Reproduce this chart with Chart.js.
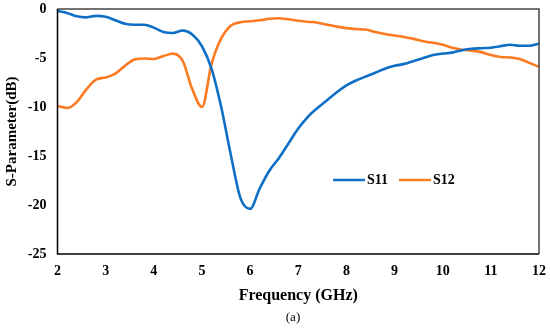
<!DOCTYPE html>
<html>
<head>
<meta charset="utf-8">
<script src="https://cdn.jsdelivr.net/npm/chart.js@4"></script>
<style>
  html, body { margin: 0; padding: 0; background: #fff; }
  #wrap { width: 550px; height: 329px; }
</style>
</head>
<body>
<div id="wrap"><canvas id="chart" width="550" height="329"></canvas></div>
<script>
// frequency points (GHz)
const freq = [2.0, 2.2, 2.4, 2.6, 2.8, 3.0, 3.2, 3.4, 3.6, 3.8,
    4.0, 4.2, 4.4, 4.6, 4.8, 5.0, 5.2, 5.4, 5.6, 5.8,
    6.0, 6.2, 6.4, 6.6, 6.8, 7.0, 7.2, 7.4, 7.6, 7.8,
    8.0, 8.2, 8.4, 8.6, 8.8, 9.0, 9.2, 9.4, 9.6, 9.8,
    10.0, 10.2, 10.4, 10.6, 10.8, 11.0, 11.2, 11.4, 11.6, 11.8, 12.0];

const s11 = [-0.2, -0.4, -0.75, -0.85, -0.7, -0.8, -1.15, -1.5, -1.6, -1.6,
    -1.9, -2.35, -2.45, -2.2, -2.6, -3.8, -6.1, -10.0, -14.9, -19.3,
    -20.4, -18.3, -16.5, -15.2, -13.7, -12.2, -11.0, -10.1, -9.3, -8.5,
    -7.8, -7.3, -6.9, -6.5, -6.1, -5.8, -5.6, -5.3, -5.0, -4.7,
    -4.55, -4.45, -4.2, -4.05, -4.0, -3.95, -3.8, -3.65, -3.75, -3.75, -3.55];

const s12 = [-9.9, -10.1, -9.5, -8.2, -7.2, -7.0, -6.6, -5.8, -5.15, -5.05,
    -5.1, -4.8, -4.55, -5.3, -8.2, -10.0, -5.6, -3.0, -1.7, -1.35,
    -1.25, -1.15, -1.0, -0.95, -1.05, -1.2, -1.3, -1.4, -1.6, -1.8,
    -1.95, -2.05, -2.1, -2.35, -2.55, -2.7, -2.85, -3.05, -3.3, -3.45,
    -3.65, -3.95, -4.15, -4.25, -4.4, -4.7, -4.9, -4.95, -5.1, -5.5, -5.9];

const seriesNames = ['S11', 'S12'];
const seriesColors = ['#0f6fc6', '#fb7b23'];

const serif = "'Liberation Serif', 'DejaVu Serif', serif";

function toPoints(ys) {
    return freq.map((f, i) => ({ x: f, y: ys[i] }));
}

// frame, legend and caption
const extras = {
    id: 'extras',
    afterDraw(chart) {
        const ctx = chart.ctx;
        const a = chart.chartArea;
        ctx.save();
        ctx.lineWidth = 1.5;
        ctx.strokeStyle = '#444';
        ctx.beginPath();
        ctx.moveTo(a.left, a.top);
        ctx.lineTo(a.right, a.top);
        ctx.lineTo(a.right, a.bottom);
        ctx.stroke();
        ctx.strokeStyle = '#000';
        ctx.beginPath();
        ctx.moveTo(a.left, a.top);
        ctx.lineTo(a.left, a.bottom);
        ctx.lineTo(a.right, a.bottom);
        ctx.stroke();

        // legend
        ctx.font = 'bold 14px ' + serif;
        ctx.textBaseline = 'middle';
        ctx.textAlign = 'left';
        let x = 333;
        const y = 180;
        chart.data.datasets.forEach(ds => {
            ctx.strokeStyle = ds.borderColor;
            ctx.lineWidth = 2.5;
            ctx.beginPath();
            ctx.moveTo(x, y);
            ctx.lineTo(x + 32, y);
            ctx.stroke();
            ctx.fillStyle = '#000';
            ctx.fillText(ds.label, x + 34, y);
            x += 34 + ctx.measureText(ds.label).width + 11;
        });

        ctx.font = '13px ' + serif;
        ctx.textAlign = 'center';
        ctx.fillText('(a)', 293, 318);
        ctx.restore();
    }
};

new Chart(document.getElementById('chart'), {
    type: 'line',
    data: {
        datasets: [
            { label: seriesNames[0], data: toPoints(s11), borderColor: seriesColors[0] },
            { label: seriesNames[1], data: toPoints(s12), borderColor: seriesColors[1] }
        ]
    },
    options: {
        responsive: false,
        animation: false,
        layout: { padding: { top: 9, right: 11, left: 0, bottom: 0 } },
        elements: {
            point: { radius: 0 },
            line: { borderWidth: 2.6, tension: 0.4, cubicInterpolationMode: 'monotone' }
        },
        plugins: {
            legend: { display: false },
            tooltip: { enabled: false }
        },
        scales: {
            x: {
                type: 'linear',
                min: 2,
                max: 12,
                afterFit: s => {
                    s.height = 75;
                    s.paddingLeft = 0;
                    s.paddingRight = 0;
                },
                grid: { display: false, drawTicks: false },
                border: { display: false },
                ticks: {
                    stepSize: 1,
                    padding: 9,
                    color: '#000',
                    font: { family: serif, size: 14, weight: 'bold' }
                },
                title: {
                    display: true,
                    text: 'Frequency (GHz)',
                    color: '#000',
                    padding: { top: 6, bottom: 24 },
                    font: { family: serif, size: 16, weight: 'bold' }
                }
            },
            y: {
                min: -25,
                max: 0,
                afterFit: s => {
                    s.width = 57.5;
                    s.paddingTop = 0;
                    s.paddingBottom = 0;
                },
                grid: { display: false, drawTicks: false },
                border: { display: false },
                ticks: {
                    stepSize: 5,
                    padding: 11,
                    color: '#000',
                    font: { family: serif, size: 14, weight: 'bold' }
                },
                title: {
                    display: true,
                    text: 'S-Parameter(dB)',
                    color: '#000',
                    padding: { top: 3, bottom: 0 },
                    font: { family: serif, size: 15, weight: 'bold' }
                }
            }
        }
    },
    plugins: [extras]
});
</script>
</body>
</html>
